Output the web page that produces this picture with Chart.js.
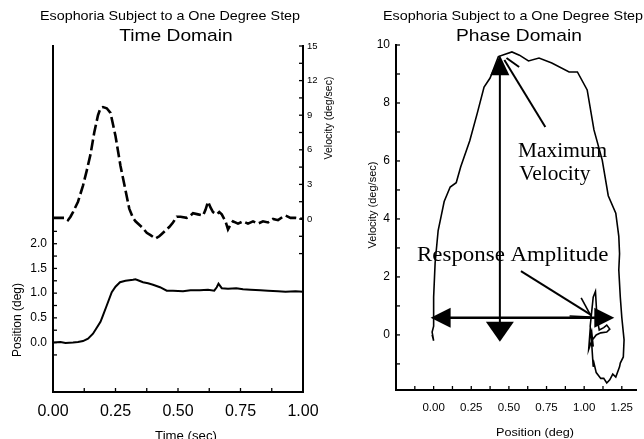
<!DOCTYPE html>
<html><head><meta charset="utf-8">
<script src="https://cdn.jsdelivr.net/npm/chart.js@4.4.0/dist/chart.umd.min.js"></script>
<style>
html,body{margin:0;padding:0;background:#fff;overflow:hidden}
#wrap{position:relative;width:644px;height:439px}
canvas{position:absolute;top:0}
#c1{left:0}
#c2{left:340px}
</style></head><body>
<div id="wrap"><canvas id="c1" width="340" height="439"></canvas><canvas id="c2" width="304" height="439"></canvas></div>
<script>
// ---------- Time domain: velocity (deg/sec) ----------
const velTime = [0.00,0.03,0.05,0.06,0.07,0.08,0.10,0.12,0.135,0.15,0.165,0.18,0.19,0.20,0.215,0.23,0.25,0.27,0.29,0.305,0.32,0.33,0.345,0.36,0.375,0.39,0.41,0.425,0.435,0.45,0.465,0.48,0.495,0.51,0.535,0.55,0.56,0.58,0.60,0.61,0.62,0.63,0.64,0.655,0.665,0.675,0.69,0.70,0.71,0.72,0.74,0.76,0.78,0.80,0.82,0.84,0.86,0.88,0.90,0.92,0.93,0.95,0.97,1.00];
const velValues = [0.1,0.1,0.1,-0.1,0.2,0.6,1.5,2.9,4.2,5.6,7.5,9.0,9.6,9.7,9.6,9.2,7.2,4.6,2.5,0.9,0.1,-0.2,-0.5,-0.8,-1.2,-1.4,-1.7,-1.5,-1.3,-1.0,-0.7,-0.3,0.2,0.2,0.1,0.3,0.5,0.4,0.3,0.8,1.5,1.0,0.6,0.4,0.6,0.4,-0.2,-0.9,-0.5,-0.2,-0.4,-0.2,-0.4,-0.2,-0.4,-0.2,-0.3,0.0,-0.1,0.2,0.3,0.1,0.1,0.0];
// ---------- Time domain: position (deg) ----------
const posTime = [0.00,0.03,0.05,0.08,0.10,0.12,0.14,0.16,0.175,0.19,0.20,0.215,0.235,0.25,0.268,0.29,0.32,0.33,0.345,0.36,0.38,0.40,0.428,0.455,0.48,0.52,0.55,0.587,0.62,0.645,0.655,0.662,0.675,0.70,0.733,0.76,0.79,0.83,0.86,0.90,0.93,0.97,1.00];
const posValues = [0.00,0.01,-0.01,0.00,0.01,0.03,0.08,0.18,0.30,0.42,0.55,0.75,1.02,1.13,1.22,1.25,1.27,1.28,1.25,1.22,1.20,1.17,1.12,1.05,1.05,1.04,1.06,1.06,1.07,1.05,1.12,1.19,1.10,1.09,1.10,1.08,1.07,1.06,1.05,1.04,1.03,1.04,1.03];
// ---------- Phase domain: velocity vs position ----------
const phasePos = [-0.01,0.00,-0.01,0.00,0.00,0.01,0.03,0.05,0.07,0.11,0.15,0.18,0.24,0.29,0.335,0.375,0.43,0.52,0.57,0.63,0.70,0.785,0.90,0.955,1.02,1.065,1.12,1.16,1.21,1.23,1.235,1.23,1.24,1.25,1.265,1.26,1.24,1.235,1.21,1.19,1.17,1.15,1.13,1.11,1.08,1.065,1.06,1.05,1.04,1.06,1.075,1.085,1.10,1.13,1.15,1.17,1.15,1.11,1.08,1.05,1.03,1.04,1.06,1.05,1.04];
const phaseVel = [0.0,-0.2,0.1,0.3,1.3,2.5,3.6,4.1,4.6,5.1,5.25,5.8,6.7,7.65,8.55,8.86,9.6,9.76,9.65,9.45,9.55,9.38,9.07,9.07,8.45,7.07,6.03,4.8,4.2,3.4,2.8,2.24,1.3,0.6,-0.17,-0.76,-0.97,-1.1,-1.45,-1.35,-1.55,-1.66,-1.5,-1.5,-1.3,-0.97,-1.1,-0.3,0.3,1.3,1.5,0.6,0.17,0.25,0.34,0.2,0.1,0.07,0.0,-0.2,-0.5,0.2,-0.4,0.1,-0.1];
// ---------- Tick labels ----------
const timeTickLabels = [0,0.25,0.5,0.75,1];
const posTickLabels = [0,0.5,1,1.5,2];
const velTickLabels = [0,3,6,9,12,15];
const phaseXTickLabels = [0,0.25,0.5,0.75,1,1.25];
const phaseYTickLabels = [0,2,4,6,8,10];
// tick marks (minor + major)
const timeTickMarks = [0,0.125,0.25,0.375,0.5,0.625,0.75,0.875,1];
const posTickMarks = [-0.25,0,0.25,0.5,0.75,1,1.25,1.5,1.75,2,2.25];
const velTickMarks = [-3,-1.5,0,1.5,3,4.5,6,7.5,9,10.5,12,13.5,15];
const phaseXTickMarks = [-0.125,0,0.125,0.25,0.375,0.5,0.625,0.75,0.875,1,1.125,1.25];
const phaseYTickMarks = [-1,0,1,2,3,4,5,6,7,8,9,10];

const SANS = '"Liberation Sans", Arial, sans-serif';
const SERIF = '"Liberation Serif", "Times New Roman", serif';

function pts(xs, ys){ return xs.map((x,i)=>({x:x, y:ys[i]})); }
function setTicks(list){ return s => { s.ticks = list.map(v=>({value:v})); }; }
function txt(ctx, s, x, y, font, align, rot, sx, base){
  ctx.save(); ctx.translate(x,y); if(rot) ctx.rotate(rot); ctx.scale(sx||1,1);
  ctx.font = font; ctx.textAlign = align||'center'; ctx.textBaseline = base||'middle';
  ctx.fillStyle = '#000'; ctx.fillText(s,0,0); ctx.restore();
}
function tickPlugin(marks){
  return { id:'tickMarks', afterDraw(chart){
    const ctx = chart.ctx; ctx.save(); ctx.strokeStyle='#000'; ctx.lineWidth=1.3;
    const L = 4;
    for (const id in marks){
      const s = chart.scales[id];
      marks[id].forEach(v=>{
        const p = s.getPixelForValue(v);
        ctx.beginPath();
        if (s.isHorizontal()){ ctx.moveTo(p, s.top); ctx.lineTo(p, s.top - L); }
        else if (s.position === 'left'){ ctx.moveTo(s.right, p); ctx.lineTo(s.right + L, p); }
        else { ctx.moveTo(s.left, p); ctx.lineTo(s.left - L, p); }
        ctx.stroke();
      });
    }
    ctx.restore();
  }};
}
function axisBase(){
  return { grid:{display:false, drawTicks:false}, border:{display:true, color:'#000', width:2} };
}

// ================= LEFT: Time Domain =================
new Chart(document.getElementById('c1'), {
  type:'scatter',
  data:{ datasets:[
    { data: pts(velTime, velValues), yAxisID:'yv', showLine:true, borderColor:'#000', borderWidth:2.6,
      borderDash:[11,4], pointRadius:0, tension:0, fill:false },
    { data: pts(posTime, posValues), yAxisID:'yp', showLine:true, borderColor:'#000', borderWidth:2,
      pointRadius:0, tension:0, fill:false }
  ]},
  options:{
    responsive:false, animation:false, devicePixelRatio:1,
    layout:{ padding:{ top:46, left:0, right:0, bottom:0 } },
    plugins:{ legend:{display:false}, tooltip:{enabled:false} },
    scales:{
      x: Object.assign(axisBase(), { type:'linear', position:'bottom', min:0, max:1,
        ticks:{ font:{size:16, family:SANS}, color:'#000', padding:10, autoSkip:false, maxRotation:0,
          callback:v=>v.toFixed(2) },
        afterBuildTicks:setTicks(timeTickLabels), afterFit:s=>{ s.height = 47; } }),
      yp: Object.assign(axisBase(), { type:'linear', position:'left', min:-1, max:6,
        ticks:{ font:{size:12, family:SANS}, color:'#000', padding:6, autoSkip:false, callback:v=>v.toFixed(1) },
        afterBuildTicks:setTicks(posTickLabels), afterFit:s=>{ s.width = 53; } }),
      yv: Object.assign(axisBase(), { type:'linear', position:'right', min:-15, max:15,
        ticks:{ font:{size:9.5, family:SANS}, color:'#000', padding:4, autoSkip:false, callback:v=>String(v) },
        afterBuildTicks:setTicks(velTickLabels), afterFit:s=>{ s.width = 37; } })
    }
  },
  plugins:[ tickPlugin({x:timeTickMarks, yp:posTickMarks, yv:velTickMarks}), { id:'texts1', afterDraw(chart){
    const ctx = chart.ctx;
    txt(ctx, 'Esophoria Subject to a One Degree Step', 170, 17, '12.6px '+SANS, 'center', 0, 1.14);
    txt(ctx, 'Time Domain', 176, 36, '17px '+SANS, 'center', 0, 1.13);
    txt(ctx, 'Position (deg)', 18, 320, '12px '+SANS, 'center', -Math.PI/2, 1);
    txt(ctx, 'Velocity (deg/sec)', 329, 118, '10.5px '+SANS, 'center', -Math.PI/2, 1);
    txt(ctx, 'Time (sec)', 186, 437, '12px '+SANS, 'center', 0, 1.1);
  }} ]
});

// ================= RIGHT: Phase Domain =================
const annot = {
  maxArrow:{ pos:0.44, top:9.65, bottom:-0.24 },
  ampArrow:{ vel:0.59, left:-0.02, right:1.2 }
};
new Chart(document.getElementById('c2'), {
  type:'scatter',
  data:{ datasets:[
    { data: pts(phasePos, phaseVel), showLine:true, borderColor:'#000', borderWidth:1.6,
      pointRadius:0, tension:0, fill:false }
  ]},
  options:{
    responsive:false, animation:false, devicePixelRatio:1,
    layout:{ padding:{ top:45, left:0, right:0, bottom:0 } },
    plugins:{ legend:{display:false}, tooltip:{enabled:false} },
    scales:{
      x: Object.assign(axisBase(), { type:'linear', position:'bottom', min:-0.25, max:1.35,
        ticks:{ font:{size:11.5, family:SANS}, color:'#000', padding:11, autoSkip:false, maxRotation:0,
          callback:v=>v.toFixed(2) },
        afterBuildTicks:setTicks(phaseXTickLabels), afterFit:s=>{ s.height = 49; } }),
      y: Object.assign(axisBase(), { type:'linear', position:'left', min:-1.9, max:10,
        ticks:{ font:{size:12, family:SANS}, color:'#000', padding:6, autoSkip:false, callback:v=>String(v) },
        afterBuildTicks:setTicks(phaseYTickLabels), afterFit:s=>{ s.width = 56; } })
    }
  },
  plugins:[ tickPlugin({x:phaseXTickMarks, y:phaseYTickMarks}), {
    id:'annot',
    afterDatasetsDraw(chart){
      const {ctx, scales:{x, y}} = chart;
      const X = v=>x.getPixelForValue(v), Y = v=>y.getPixelForValue(v);
      ctx.save(); ctx.strokeStyle='#000'; ctx.fillStyle='#000'; ctx.lineCap='butt';
      function line(x1,y1,x2,y2,w){ ctx.lineWidth=w; ctx.beginPath(); ctx.moveTo(x1,y1); ctx.lineTo(x2,y2); ctx.stroke(); }
      function head(tx,ty,dx,dy,len,wid){
        const bx = tx - dx*len, by = ty - dy*len, px = -dy, py = dx;
        ctx.beginPath(); ctx.moveTo(tx,ty); ctx.lineTo(bx+px*wid/2, by+py*wid/2); ctx.lineTo(bx-px*wid/2, by-py*wid/2); ctx.closePath(); ctx.fill();
      }
      // vertical (maximum velocity) double arrow
      const m = annot.maxArrow, ax = X(m.pos), at = Y(m.top), ab = Y(m.bottom);
      line(ax, at+10, ax, ab-10, 2);
      head(ax, at, 0, -1, 20, 19);
      head(ax, ab, 0, 1, 20, 28);
      // horizontal (response amplitude) double arrow
      const a = annot.ampArrow, hy = Y(a.vel), hl = X(a.left), hr = X(a.right);
      line(hl+10, hy, hr-10, hy, 2.4);
      head(hl, hy, -1, 0, 20, 20);
      head(hr, hy, 1, 0, 20, 20);
      // pointer to peak
      line(X(0.742), Y(7.17), X(0.47), Y(9.48), 2);
      line(X(0.484), Y(9.55), X(0.568), Y(9.24), 2);
      // pointer to amplitude
      line(X(0.58), Y(2.2), X(1.045), Y(0.69), 2);
      line(X(0.98), Y(1.28), X(1.045), Y(0.66), 1.6);
      line(X(0.903), Y(0.655), X(1.045), Y(0.62), 1.6);
      // annotation text
      txt(ctx, 'Maximum', X(0.561), Y(6.14), '20px '+SERIF, 'left', 0, 1.07, 'alphabetic');
      txt(ctx, 'Velocity', X(0.568), Y(5.34), '20px '+SERIF, 'left', 0, 1.07, 'alphabetic');
      txt(ctx, 'Response Amplitude', X(-0.11), Y(2.55), '21px '+SERIF, 'left', 0, 1.09, 'alphabetic');
      ctx.restore();
    },
    afterDraw(chart){
      const ctx = chart.ctx;
      txt(ctx, 'Esophoria Subject to a One Degree Step', 173, 17, '12.6px '+SANS, 'center', 0, 1.14);
      txt(ctx, 'Phase Domain', 179, 36, '17px '+SANS, 'center', 0, 1.13);
      txt(ctx, 'Velocity (deg/sec)', 33, 205, '11px '+SANS, 'center', -Math.PI/2, 1);
      txt(ctx, 'Position (deg)', 195, 433, '11.5px '+SANS, 'center', 0, 1.1);
    }
  } ]
});
</script>
</body></html>
